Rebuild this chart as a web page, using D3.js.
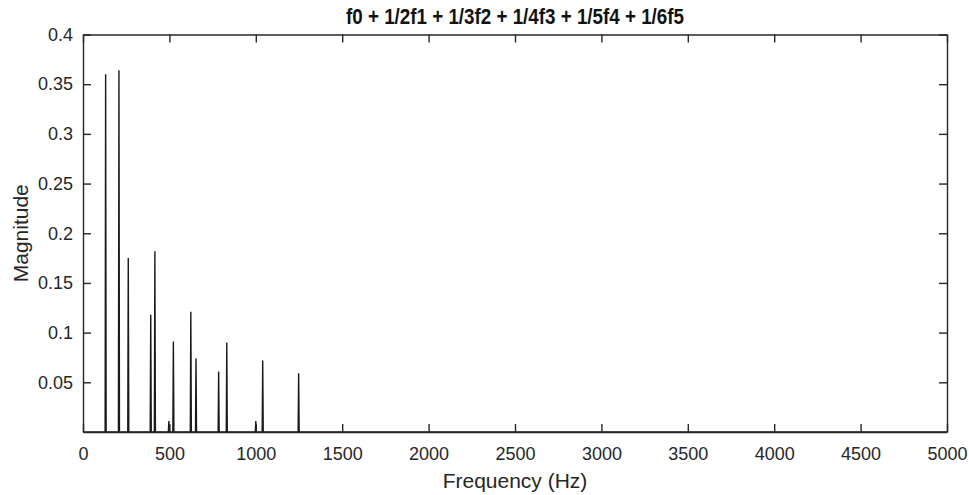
<!DOCTYPE html>
<html>
<head>
<meta charset="utf-8">
<script src="https://cdn.jsdelivr.net/npm/d3@7"></script>
<style>
  html, body { margin: 0; padding: 0; background: #fff; }
  svg { display: block; font-family: "Liberation Sans", Arial, Helvetica, sans-serif; }
</style>
</head>
<body>
<svg id="chart" width="969" height="495"></svg>
<script>
// Spectrum peaks: frequency (Hz) and magnitude
const peakFreqs = [131, 208, 262, 392, 416, 497, 523, 624, 654, 785, 832, 1000, 1040, 1248];
const peakMags  = [0.360, 0.364, 0.175, 0.118, 0.182, 0.011, 0.091, 0.121, 0.074, 0.061, 0.090, 0.011, 0.072, 0.059];

const xTicks = [0, 500, 1000, 1500, 2000, 2500, 3000, 3500, 4000, 4500, 5000];
const yTicks = [0.05, 0.1, 0.15, 0.2, 0.25, 0.3, 0.35, 0.4];
const xDomain = [0, 5000];
const yDomain = [0, 0.4];

const titleText = "f0 + 1/2f1 + 1/3f2 + 1/4f3 + 1/5f4 + 1/6f5";
const xLabel = "Frequency (Hz)";
const yLabel = "Magnitude";

const W = 969, H = 495;
const plot = { left: 83, right: 947, top: 34.5, bottom: 432 };
const svg = d3.select("#chart");

const x = d3.scaleLinear().domain(xDomain).range([plot.left, plot.right]);
const y = d3.scaleLinear().domain(yDomain).range([plot.bottom, plot.top]);

const tickLen = 8;
const axisColor = "#262626";
const tickFont = "18px";
const labelFont = "21px";

// Spectrum trace: flat baseline with a narrow spike at each peak
const halfWidth = 3;
const pts = [[xDomain[0], 0]];
peakFreqs.forEach((f, i) => {
  pts.push([f - halfWidth, 0], [f, peakMags[i]], [f + halfWidth, 0]);
});
pts.push([xDomain[1], 0]);

svg.append("path")
  .datum(pts)
  .attr("fill", "none")
  .attr("stroke", "#1a1a1a")
  .attr("stroke-width", 1.4)
  .attr("stroke-linejoin", "miter")
  .attr("d", d3.line().x(d => x(d[0])).y(d => y(d[1])));

// Bottom axis with inward ticks
const axisB = svg.append("g")
  .attr("transform", `translate(0,${y(0)})`)
  .call(d3.axisBottom(x).tickValues(xTicks).tickSizeInner(-tickLen).tickSizeOuter(0).tickPadding(15).tickFormat(d3.format("d")));
// Top axis (ticks only)
const axisT = svg.append("g")
  .attr("transform", `translate(0,${y(yDomain[1])})`)
  .call(d3.axisTop(x).tickValues(xTicks).tickSizeInner(-tickLen).tickSizeOuter(0).tickFormat(""));
// Left axis with inward ticks
const axisL = svg.append("g")
  .attr("transform", `translate(${x(xDomain[0])},0)`)
  .call(d3.axisLeft(y).tickValues(yTicks).tickSizeInner(-tickLen).tickSizeOuter(0).tickPadding(10).tickFormat(d => String(d)));
// Right axis (ticks only)
const axisR = svg.append("g")
  .attr("transform", `translate(${x(xDomain[1])},0)`)
  .call(d3.axisRight(y).tickValues(yTicks).tickSizeInner(-tickLen).tickSizeOuter(0).tickFormat(""));

[axisB, axisT, axisL, axisR].forEach(g => {
  g.selectAll("path.domain").attr("stroke", axisColor).attr("stroke-width", 1.4);
  g.selectAll(".tick line").attr("stroke", axisColor).attr("stroke-width", 1.4);
  g.selectAll(".tick text")
    .attr("fill", axisColor)
    .style("font-size", tickFont)
    .style("font-family", "'Liberation Sans', Arial, sans-serif");
});

// Title (bold, condensed)
svg.append("text")
  .attr("x", (x(xDomain[0]) + x(xDomain[1])) / 2)
  .attr("y", 24)
  .attr("text-anchor", "middle")
  .attr("fill", "#111")
  .attr("textLength", 338)
  .attr("lengthAdjust", "spacingAndGlyphs")
  .style("font-family", "'Liberation Sans Narrow', 'Liberation Sans', Arial, sans-serif")
  .style("font-size", "22px")
  .style("font-weight", "bold")
  .text(titleText);

// Axis labels
svg.append("text")
  .attr("x", (x(xDomain[0]) + x(xDomain[1])) / 2)
  .attr("y", 488)
  .attr("text-anchor", "middle")
  .attr("fill", axisColor)
  .style("font-size", labelFont)
  .text(xLabel);

svg.append("text")
  .attr("transform", `translate(28,${(y(yDomain[0]) + y(yDomain[1])) / 2}) rotate(-90)`)
  .attr("text-anchor", "middle")
  .attr("fill", axisColor)
  .style("font-size", labelFont)
  .text(yLabel);
</script>
</body>
</html>
